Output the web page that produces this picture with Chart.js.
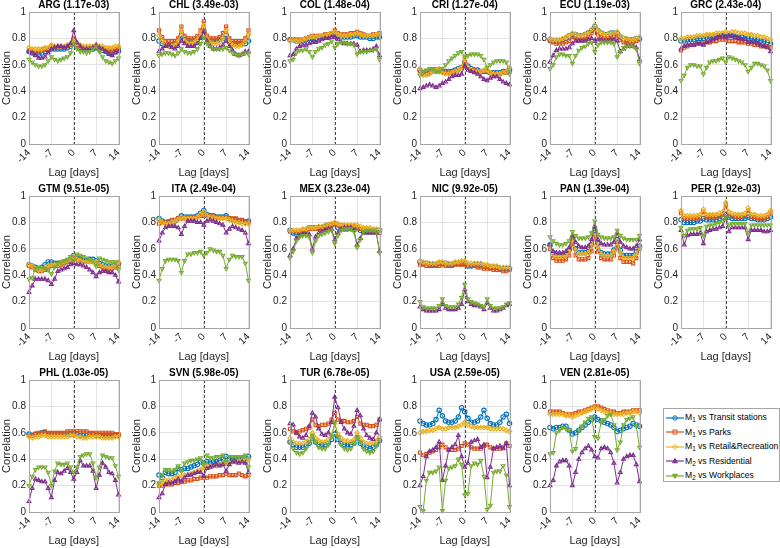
<!DOCTYPE html>
<html>
<head>
<meta charset="utf-8">
<script src="https://cdn.jsdelivr.net/npm/chart.js@4.4.1/dist/chart.umd.min.js"></script>
<style>
body { margin: 0; background: #fff; width: 780px; height: 548px; position: relative; overflow: hidden; font-family: "Liberation Sans", Arial, sans-serif; }
.panel { position: absolute; }
#legend { position: absolute; left: 663px; top: 408px; width: 117px; height: 74px; border: 1px solid #a6a6a6; box-sizing: border-box; background: #fff; font-size: 8.6px; color: #000; padding-top: 1px; }
.item { height: 14.5px; line-height: 14.5px; white-space: nowrap; }
.item svg { vertical-align: middle; margin: 0 1px 0 2px; }
sub { font-size: 6.3px; vertical-align: -2px; }
</style>
</head>
<body>
<div id="legend"></div>
<script>
// lag axis and series names
const lags = [-14, -13, -12, -11, -10, -9, -8, -7, -6, -5, -4, -3, -2, -1, 0, 1, 2, 3, 4, 5, 6, 7, 8, 9, 10, 11, 12, 13, 14];
const seriesNames = ['M<sub>1</sub> vs Transit stations', 'M<sub>1</sub> vs Parks', 'M<sub>1</sub> vs Retail&amp;Recreation', 'M<sub>2</sub> vs Residential', 'M<sub>2</sub> vs Workplaces'];
const seriesLabels = ['M₁ vs Transit stations', 'M₁ vs Parks', 'M₁ vs Retail&Recreation', 'M₂ vs Residential', 'M₂ vs Workplaces'];
const colors = ['#0072BD', '#D95319', '#EDB120', '#7E2F8E', '#77AC30'];

// ---- ARG
const ARG_transit = [0.70,0.69,0.68,0.68,0.69,0.70,0.71, 0.72,0.72,0.72,0.72,0.72,0.73,0.74, 0.78, 0.74,0.73,0.72,0.72,0.72,0.72, 0.73,0.72,0.71,0.70,0.69,0.69,0.70, 0.71];
const ARG_parks   = [0.71,0.71,0.70,0.70,0.71,0.72,0.72, 0.74,0.73,0.73,0.73,0.73,0.74,0.75, 0.80, 0.75,0.74,0.73,0.73,0.73,0.73, 0.74,0.73,0.72,0.71,0.71,0.71,0.72, 0.73];
const ARG_retail  = [0.73,0.72,0.72,0.72,0.72,0.73,0.73, 0.75,0.74,0.74,0.74,0.74,0.75,0.76, 0.78, 0.76,0.75,0.74,0.74,0.74,0.74, 0.75,0.74,0.74,0.73,0.73,0.73,0.74, 0.74];
const ARG_resid   = [0.70,0.69,0.67,0.65,0.65,0.66,0.69, 0.72,0.73,0.74,0.74,0.73,0.74,0.76, 0.86, 0.77,0.74,0.72,0.72,0.72,0.73, 0.75,0.73,0.72,0.70,0.68,0.67,0.69, 0.70];
const ARG_work    = [0.64,0.62,0.60,0.59,0.59,0.60,0.63, 0.66,0.64,0.63,0.64,0.65,0.66,0.69, 0.76, 0.72,0.70,0.70,0.69,0.70,0.72, 0.74,0.70,0.66,0.63,0.62,0.61,0.63, 0.65];

// ---- CHL
const CHL_transit = [0.78,0.76,0.75,0.75,0.75,0.76,0.78, 0.82,0.79,0.78,0.78,0.78,0.79,0.81, 0.86, 0.80,0.78,0.78,0.78,0.79,0.80, 0.82,0.78,0.76,0.76,0.76,0.76,0.76, 0.78];
const CHL_parks   = [0.86,0.81,0.78,0.78,0.78,0.78,0.80, 0.89,0.82,0.80,0.80,0.80,0.82,0.86, 0.93, 0.82,0.80,0.80,0.80,0.81,0.84, 0.89,0.80,0.78,0.78,0.78,0.78,0.80, 0.86];
const CHL_retail  = [0.82,0.78,0.75,0.74,0.74,0.75,0.78, 0.86,0.78,0.76,0.76,0.77,0.79,0.84, 0.90, 0.80,0.77,0.76,0.76,0.77,0.80, 0.86,0.78,0.75,0.74,0.74,0.75,0.78, 0.83];
const CHL_resid   = [0.70,0.72,0.74,0.75,0.73,0.72,0.74, 0.78,0.76,0.74,0.74,0.74,0.76,0.80, 0.85, 0.78,0.74,0.72,0.72,0.73,0.75, 0.78,0.74,0.71,0.68,0.67,0.68,0.70, 0.70];
const CHL_work    = [0.67,0.68,0.69,0.69,0.68,0.67,0.69, 0.72,0.70,0.69,0.69,0.70,0.72,0.76, 0.81, 0.76,0.74,0.72,0.72,0.72,0.72, 0.73,0.71,0.69,0.68,0.67,0.68,0.69, 0.68];

// ---- COL
const COL_transit = [0.79,0.79,0.78,0.78,0.78,0.79,0.80, 0.80,0.80,0.81,0.81,0.82,0.82,0.83, 0.83, 0.82,0.81,0.81,0.81,0.81,0.82, 0.82,0.81,0.81,0.81,0.80,0.80,0.81, 0.81];
const COL_parks   = [0.79,0.79,0.79,0.79,0.79,0.80,0.81, 0.82,0.82,0.82,0.82,0.83,0.83,0.84, 0.86, 0.84,0.83,0.83,0.83,0.84,0.84, 0.85,0.84,0.83,0.82,0.82,0.83,0.83, 0.84];
const COL_retail  = [0.78,0.79,0.78,0.78,0.79,0.80,0.81, 0.81,0.81,0.82,0.82,0.82,0.83,0.84, 0.85, 0.83,0.82,0.82,0.82,0.83,0.83, 0.84,0.83,0.82,0.82,0.82,0.82,0.83, 0.83];
const COL_resid   = [0.67,0.68,0.72,0.74,0.75,0.75,0.76, 0.77,0.77,0.78,0.79,0.80,0.80,0.81, 0.81, 0.79,0.77,0.76,0.76,0.76,0.76, 0.75,0.70,0.71,0.71,0.71,0.72,0.74, 0.67];
const COL_work    = [0.63,0.64,0.69,0.71,0.71,0.72,0.70, 0.66,0.70,0.72,0.73,0.75,0.76,0.78, 0.73, 0.76,0.77,0.77,0.76,0.76,0.75, 0.68,0.70,0.70,0.70,0.71,0.71,0.72, 0.64];

// ---- CRI
const CRI_transit = [0.56,0.54,0.55,0.55,0.56,0.56,0.56, 0.55,0.55,0.55,0.55,0.56,0.57,0.58, 0.62, 0.59,0.57,0.56,0.56,0.55,0.55, 0.55,0.54,0.54,0.54,0.54,0.55,0.55, 0.56];
const CRI_parks   = [0.55,0.53,0.53,0.54,0.55,0.55,0.56, 0.55,0.54,0.54,0.54,0.55,0.56,0.58, 0.62, 0.58,0.56,0.56,0.55,0.55,0.55, 0.55,0.54,0.53,0.53,0.53,0.54,0.54, 0.55];
const CRI_retail  = [0.57,0.52,0.52,0.53,0.55,0.56,0.57, 0.54,0.53,0.53,0.54,0.55,0.56,0.58, 0.65, 0.58,0.56,0.55,0.55,0.55,0.56, 0.56,0.54,0.53,0.53,0.53,0.54,0.55, 0.58];
const CRI_resid   = [0.42,0.43,0.44,0.45,0.44,0.43,0.44, 0.46,0.47,0.49,0.51,0.52,0.52,0.53, 0.59, 0.56,0.55,0.54,0.53,0.51,0.49, 0.48,0.50,0.51,0.51,0.49,0.47,0.46, 0.45];
const CRI_work    = [0.52,0.55,0.56,0.57,0.57,0.55,0.55, 0.57,0.60,0.63,0.65,0.67,0.69,0.70, 0.66, 0.67,0.68,0.68,0.68,0.67,0.64, 0.58,0.60,0.62,0.63,0.63,0.63,0.62, 0.53];

// ---- ECU
const ECU_transit = [0.79,0.78,0.78,0.78,0.79,0.80,0.82, 0.83,0.83,0.82,0.82,0.83,0.84,0.86, 0.89, 0.86,0.84,0.83,0.83,0.84,0.84, 0.84,0.81,0.80,0.79,0.79,0.79,0.80, 0.80];
const ECU_parks   = [0.78,0.77,0.76,0.76,0.76,0.77,0.78, 0.81,0.80,0.79,0.79,0.80,0.81,0.84, 0.87, 0.83,0.81,0.80,0.80,0.80,0.81, 0.82,0.79,0.77,0.77,0.77,0.77,0.78, 0.79];
const ECU_retail  = [0.80,0.79,0.79,0.79,0.80,0.81,0.82, 0.84,0.83,0.82,0.82,0.83,0.84,0.87, 0.90, 0.86,0.84,0.83,0.83,0.84,0.84, 0.85,0.82,0.80,0.80,0.79,0.79,0.80, 0.81];
const ECU_resid   = [0.62,0.67,0.71,0.72,0.72,0.72,0.73, 0.76,0.78,0.78,0.78,0.78,0.79,0.80, 0.78, 0.79,0.79,0.78,0.78,0.79,0.79, 0.78,0.70,0.72,0.74,0.74,0.74,0.73, 0.64];
const ECU_work    = [0.57,0.60,0.66,0.68,0.68,0.67,0.67, 0.61,0.67,0.71,0.73,0.74,0.76,0.77, 0.70, 0.75,0.77,0.77,0.77,0.77,0.76, 0.66,0.70,0.73,0.74,0.74,0.74,0.72, 0.61];

// ---- GRC
const GRC_transit = [0.78,0.78,0.79,0.79,0.79,0.80,0.80, 0.80,0.81,0.81,0.81,0.82,0.82,0.82, 0.82, 0.82,0.82,0.81,0.81,0.81,0.80, 0.80,0.80,0.79,0.79,0.78,0.78,0.77, 0.76];
const GRC_parks   = [0.71,0.73,0.74,0.75,0.75,0.76,0.76, 0.76,0.77,0.77,0.78,0.78,0.79,0.79, 0.79, 0.78,0.78,0.78,0.77,0.77,0.77, 0.76,0.76,0.75,0.75,0.74,0.74,0.74, 0.73];
const GRC_retail  = [0.80,0.80,0.81,0.81,0.81,0.82,0.82, 0.82,0.83,0.83,0.83,0.84,0.84,0.84, 0.85, 0.84,0.85,0.85,0.84,0.84,0.84, 0.83,0.83,0.82,0.82,0.81,0.81,0.80, 0.79];
const GRC_resid   = [0.72,0.74,0.75,0.75,0.75,0.76,0.76, 0.75,0.77,0.78,0.79,0.80,0.81,0.82, 0.81, 0.82,0.82,0.81,0.80,0.79,0.79, 0.77,0.77,0.77,0.76,0.75,0.74,0.73, 0.70];
const GRC_work    = [0.48,0.52,0.58,0.60,0.60,0.59,0.59, 0.53,0.58,0.62,0.63,0.63,0.64,0.65, 0.62, 0.66,0.65,0.64,0.63,0.62,0.60, 0.55,0.58,0.61,0.61,0.60,0.59,0.56, 0.48];

// ---- GTM
const GTM_transit = [0.48,0.47,0.46,0.45,0.46,0.48,0.50, 0.50,0.49,0.49,0.49,0.50,0.51,0.52, 0.55, 0.53,0.52,0.51,0.51,0.52,0.52, 0.51,0.49,0.48,0.47,0.47,0.47,0.48, 0.49];
const GTM_parks   = [0.47,0.46,0.44,0.43,0.43,0.44,0.46, 0.47,0.47,0.47,0.48,0.49,0.50,0.51, 0.53, 0.52,0.51,0.50,0.50,0.50,0.50, 0.49,0.47,0.46,0.45,0.45,0.45,0.46, 0.47];
const GTM_retail  = [0.48,0.47,0.45,0.44,0.44,0.45,0.47, 0.48,0.48,0.48,0.49,0.50,0.51,0.52, 0.54, 0.52,0.51,0.50,0.50,0.50,0.50, 0.50,0.48,0.47,0.46,0.46,0.46,0.48, 0.50];
const GTM_resid   = [0.27,0.32,0.37,0.37,0.37,0.37,0.36, 0.33,0.37,0.43,0.44,0.45,0.46,0.48, 0.49, 0.48,0.48,0.47,0.46,0.44,0.42, 0.39,0.42,0.43,0.43,0.42,0.42,0.40, 0.35];
const GTM_work    = [0.37,0.38,0.45,0.46,0.46,0.45,0.44, 0.41,0.46,0.49,0.50,0.51,0.52,0.54, 0.51, 0.56,0.55,0.54,0.53,0.52,0.51, 0.47,0.53,0.52,0.51,0.50,0.50,0.50, 0.44];

// ---- ITA
const ITA_transit = [0.83,0.81,0.80,0.80,0.80,0.81,0.83, 0.85,0.84,0.84,0.84,0.84,0.85,0.87, 0.89, 0.86,0.85,0.85,0.84,0.84,0.84, 0.85,0.83,0.82,0.82,0.81,0.81,0.80, 0.81];
const ITA_parks   = [0.79,0.80,0.80,0.81,0.82,0.82,0.83, 0.83,0.83,0.84,0.84,0.84,0.84,0.85, 0.85, 0.85,0.85,0.85,0.84,0.84,0.84, 0.84,0.83,0.83,0.83,0.82,0.82,0.81, 0.80];
const ITA_retail  = [0.82,0.80,0.79,0.79,0.80,0.81,0.82, 0.84,0.83,0.83,0.83,0.83,0.84,0.86, 0.88, 0.85,0.84,0.84,0.83,0.83,0.83, 0.83,0.82,0.81,0.80,0.80,0.79,0.79, 0.79];
const ITA_resid   = [0.66,0.72,0.76,0.77,0.77,0.77,0.76, 0.71,0.77,0.81,0.81,0.81,0.80,0.80, 0.78, 0.81,0.82,0.81,0.80,0.79,0.78, 0.72,0.75,0.77,0.76,0.75,0.74,0.72, 0.64];
const ITA_work    = [0.36,0.45,0.51,0.52,0.52,0.52,0.51, 0.42,0.51,0.56,0.56,0.57,0.57,0.58, 0.55, 0.57,0.60,0.59,0.58,0.58,0.55, 0.45,0.52,0.55,0.54,0.54,0.54,0.49, 0.36];

// ---- MEX
const MEX_transit = [0.74,0.72,0.71,0.71,0.72,0.74,0.76, 0.76,0.76,0.76,0.76,0.77,0.78,0.78, 0.79, 0.76,0.75,0.75,0.75,0.76,0.76, 0.76,0.74,0.73,0.73,0.73,0.73,0.74, 0.74];
const MEX_parks   = [0.73,0.73,0.73,0.73,0.74,0.74,0.75, 0.75,0.75,0.75,0.76,0.76,0.77,0.78, 0.79, 0.78,0.78,0.77,0.77,0.77,0.77, 0.76,0.75,0.75,0.74,0.74,0.74,0.73, 0.72];
const MEX_retail  = [0.74,0.74,0.74,0.74,0.75,0.75,0.76, 0.76,0.76,0.77,0.77,0.78,0.78,0.79, 0.80, 0.79,0.78,0.78,0.78,0.78,0.78, 0.78,0.77,0.76,0.76,0.76,0.75,0.75, 0.74];
const MEX_resid   = [0.55,0.60,0.68,0.70,0.71,0.71,0.71, 0.60,0.69,0.72,0.73,0.74,0.75,0.75, 0.67, 0.72,0.75,0.76,0.76,0.76,0.74, 0.63,0.68,0.72,0.72,0.72,0.72,0.72, 0.58];
const MEX_work    = [0.53,0.58,0.66,0.69,0.70,0.70,0.69, 0.57,0.66,0.70,0.71,0.72,0.73,0.74, 0.64, 0.70,0.74,0.75,0.75,0.75,0.73, 0.61,0.67,0.73,0.74,0.74,0.74,0.73, 0.57];

// ---- NIC
const NIC_transit = [0.50,0.49,0.49,0.48,0.48,0.48,0.49, 0.49,0.49,0.48,0.48,0.49,0.49,0.49, 0.49, 0.47,0.47,0.48,0.48,0.48,0.47, 0.47,0.46,0.46,0.46,0.45,0.45,0.45, 0.45];
const NIC_parks   = [0.48,0.48,0.47,0.47,0.47,0.47,0.47, 0.48,0.47,0.47,0.47,0.48,0.48,0.48, 0.48, 0.47,0.47,0.47,0.46,0.46,0.45, 0.45,0.45,0.44,0.44,0.44,0.43,0.43, 0.44];
const NIC_retail  = [0.51,0.50,0.49,0.49,0.49,0.49,0.50, 0.50,0.49,0.49,0.49,0.50,0.50,0.51, 0.51, 0.49,0.49,0.49,0.49,0.49,0.48, 0.48,0.47,0.47,0.47,0.46,0.46,0.46, 0.46];
const NIC_resid   = [0.16,0.14,0.13,0.13,0.13,0.13,0.14, 0.18,0.15,0.14,0.14,0.14,0.15,0.18, 0.29, 0.20,0.18,0.17,0.17,0.16,0.14, 0.19,0.15,0.13,0.13,0.14,0.15,0.17, 0.18];
const NIC_work    = [0.20,0.16,0.15,0.15,0.15,0.15,0.17, 0.22,0.17,0.16,0.16,0.16,0.18,0.23, 0.33, 0.22,0.20,0.19,0.18,0.17,0.16, 0.22,0.17,0.15,0.15,0.15,0.16,0.18, 0.19];

// ---- PAN
const PAN_transit = [0.63,0.57,0.55,0.55,0.55,0.56,0.59, 0.68,0.60,0.57,0.57,0.57,0.58,0.63, 0.74, 0.64,0.57,0.56,0.56,0.56,0.59, 0.67,0.59,0.55,0.55,0.55,0.55,0.58, 0.62];
const PAN_parks   = [0.60,0.53,0.51,0.51,0.51,0.52,0.55, 0.64,0.55,0.52,0.52,0.52,0.53,0.58, 0.70, 0.58,0.53,0.52,0.52,0.52,0.55, 0.63,0.53,0.50,0.50,0.50,0.49,0.53, 0.60];
const PAN_retail  = [0.62,0.56,0.54,0.54,0.54,0.55,0.58, 0.67,0.59,0.56,0.56,0.56,0.57,0.62, 0.72, 0.62,0.56,0.55,0.55,0.55,0.58, 0.66,0.57,0.53,0.53,0.53,0.53,0.56, 0.61];
const PAN_resid   = [0.63,0.58,0.57,0.57,0.57,0.58,0.61, 0.70,0.65,0.62,0.61,0.61,0.62,0.67, 0.77, 0.67,0.64,0.63,0.63,0.63,0.65, 0.72,0.65,0.62,0.61,0.60,0.60,0.62, 0.67];
const PAN_work    = [0.69,0.66,0.64,0.63,0.63,0.64,0.66, 0.73,0.70,0.68,0.68,0.68,0.69,0.72, 0.81, 0.71,0.69,0.68,0.68,0.68,0.69, 0.74,0.70,0.68,0.67,0.67,0.67,0.67, 0.70];

// ---- PER
const PER_transit = [0.82,0.80,0.80,0.80,0.80,0.81,0.81, 0.83,0.82,0.82,0.82,0.82,0.83,0.84, 0.86, 0.84,0.83,0.83,0.83,0.83,0.83, 0.84,0.83,0.83,0.82,0.82,0.82,0.83, 0.84];
const PER_parks   = [0.87,0.83,0.83,0.83,0.83,0.83,0.84, 0.88,0.84,0.84,0.84,0.84,0.85,0.86, 0.93, 0.85,0.85,0.84,0.84,0.84,0.85, 0.89,0.84,0.84,0.83,0.83,0.83,0.84, 0.87];
const PER_retail  = [0.89,0.85,0.85,0.85,0.85,0.85,0.86, 0.90,0.86,0.86,0.86,0.86,0.87,0.88, 0.95, 0.88,0.87,0.86,0.86,0.86,0.87, 0.91,0.86,0.86,0.85,0.85,0.85,0.86, 0.89];
const PER_resid   = [0.74,0.63,0.70,0.71,0.71,0.71,0.72, 0.64,0.73,0.74,0.75,0.75,0.76,0.77, 0.83, 0.73,0.76,0.76,0.76,0.76,0.76, 0.67,0.74,0.74,0.74,0.74,0.73,0.73, 0.74];
const PER_work    = [0.76,0.70,0.74,0.75,0.75,0.75,0.76, 0.70,0.77,0.78,0.78,0.79,0.80,0.81, 0.84, 0.78,0.79,0.79,0.79,0.79,0.79, 0.72,0.78,0.78,0.78,0.78,0.78,0.78, 0.78];

// ---- PHL
const PHL_transit = [0.59,0.58,0.59,0.59,0.60,0.60,0.59, 0.59,0.59,0.59,0.59,0.59,0.59,0.59, 0.59, 0.59,0.58,0.58,0.58,0.59,0.59, 0.58,0.58,0.58,0.58,0.58,0.58,0.58, 0.58];
const PHL_parks   = [0.58,0.58,0.59,0.60,0.60,0.61,0.60, 0.60,0.60,0.60,0.60,0.60,0.61,0.61, 0.61, 0.61,0.61,0.61,0.61,0.60,0.60, 0.60,0.60,0.60,0.60,0.60,0.60,0.59, 0.59];
const PHL_retail  = [0.57,0.56,0.57,0.57,0.58,0.58,0.57, 0.57,0.57,0.57,0.57,0.57,0.57,0.58, 0.58, 0.57,0.57,0.56,0.56,0.57,0.57, 0.57,0.57,0.56,0.56,0.56,0.56,0.57, 0.57];
const PHL_resid   = [0.08,0.18,0.25,0.24,0.23,0.23,0.18, 0.11,0.24,0.30,0.29,0.31,0.33,0.30, 0.25, 0.30,0.39,0.35,0.35,0.35,0.31, 0.18,0.28,0.37,0.34,0.30,0.29,0.24, 0.13];
const PHL_work    = [0.20,0.27,0.32,0.34,0.34,0.34,0.30, 0.20,0.31,0.37,0.36,0.36,0.37,0.34, 0.30, 0.34,0.42,0.43,0.44,0.44,0.37, 0.26,0.34,0.43,0.42,0.41,0.41,0.35, 0.27];

// ---- SVN
const SVN_transit = [0.28,0.26,0.30,0.29,0.29,0.30,0.33, 0.32,0.33,0.33,0.34,0.35,0.36,0.38, 0.37, 0.38,0.37,0.38,0.38,0.39,0.40, 0.42,0.40,0.40,0.40,0.40,0.41,0.41, 0.42];
const SVN_parks   = [0.20,0.20,0.21,0.21,0.21,0.22,0.22, 0.23,0.23,0.24,0.24,0.25,0.25,0.26, 0.26, 0.26,0.27,0.27,0.27,0.28,0.28, 0.29,0.28,0.28,0.28,0.29,0.28,0.27, 0.28];
const SVN_retail  = [0.21,0.22,0.24,0.24,0.24,0.26,0.27, 0.27,0.28,0.28,0.29,0.30,0.31,0.32, 0.34, 0.35,0.34,0.35,0.35,0.36,0.37, 0.37,0.37,0.38,0.38,0.39,0.39,0.40, 0.40];
const SVN_resid   = [0.11,0.14,0.21,0.22,0.22,0.23,0.25, 0.23,0.26,0.28,0.28,0.29,0.30,0.30, 0.27, 0.33,0.34,0.35,0.36,0.35,0.36, 0.31,0.36,0.38,0.38,0.37,0.38,0.37, 0.30];
const SVN_work    = [0.22,0.28,0.32,0.32,0.31,0.32,0.35, 0.31,0.37,0.38,0.39,0.39,0.40,0.41, 0.36, 0.43,0.41,0.41,0.42,0.42,0.43, 0.38,0.42,0.42,0.42,0.42,0.42,0.43, 0.34];

// ---- TUR
const TUR_transit = [0.53,0.51,0.49,0.49,0.49,0.50,0.52, 0.56,0.53,0.51,0.51,0.51,0.52,0.55, 0.59, 0.55,0.52,0.51,0.51,0.51,0.52, 0.56,0.52,0.50,0.49,0.48,0.49,0.51, 0.54];
const TUR_parks   = [0.63,0.61,0.60,0.61,0.62,0.63,0.64, 0.70,0.66,0.65,0.66,0.66,0.67,0.70, 0.75, 0.70,0.69,0.69,0.68,0.68,0.69, 0.72,0.67,0.66,0.66,0.65,0.65,0.66, 0.70];
const TUR_retail  = [0.56,0.53,0.52,0.52,0.52,0.53,0.55, 0.60,0.56,0.54,0.53,0.53,0.55,0.58, 0.67, 0.59,0.56,0.54,0.54,0.53,0.55, 0.60,0.56,0.53,0.52,0.52,0.52,0.54, 0.57];
const TUR_resid   = [0.67,0.66,0.60,0.57,0.56,0.58,0.65, 0.75,0.72,0.63,0.59,0.58,0.60,0.68, 0.87, 0.79,0.68,0.63,0.60,0.59,0.65, 0.77,0.73,0.63,0.58,0.56,0.55,0.60, 0.70];
const TUR_work    = [0.53,0.48,0.45,0.44,0.45,0.48,0.53, 0.58,0.53,0.49,0.48,0.48,0.51,0.57, 0.68, 0.57,0.51,0.48,0.47,0.48,0.52, 0.57,0.53,0.48,0.46,0.45,0.46,0.50, 0.55];

// ---- USA
const USA_transit = [0.69,0.67,0.66,0.66,0.67,0.70,0.77, 0.73,0.69,0.68,0.68,0.69,0.72,0.79, 0.76, 0.71,0.68,0.68,0.69,0.72,0.77, 0.71,0.67,0.66,0.66,0.68,0.72,0.74, 0.67];
const USA_parks   = [0.45,0.43,0.44,0.45,0.46,0.47,0.49, 0.51,0.49,0.47,0.47,0.47,0.48,0.50, 0.52, 0.51,0.49,0.48,0.48,0.48,0.50, 0.51,0.49,0.48,0.48,0.48,0.49,0.52, 0.50];
const USA_retail  = [0.60,0.61,0.61,0.62,0.62,0.63,0.64, 0.63,0.63,0.64,0.64,0.64,0.65,0.66, 0.68, 0.66,0.65,0.64,0.64,0.64,0.64, 0.64,0.63,0.63,0.63,0.63,0.63,0.62, 0.61];
const USA_resid   = [0.20,0.27,0.42,0.46,0.47,0.49,0.53, 0.24,0.35,0.47,0.49,0.51,0.58,0.42, 0.34, 0.37,0.53,0.54,0.55,0.49,0.51, 0.26,0.34,0.48,0.49,0.50,0.48,0.52, 0.20];
const USA_work    = [0.04,0.01,0.24,0.30,0.30,0.31,0.34, 0.01,0.24,0.33,0.34,0.35,0.40,0.36, 0.13, 0.14,0.35,0.37,0.36,0.39,0.27, 0.02,0.05,0.30,0.31,0.31,0.35,0.28, 0.04];

// ---- VEN
const VEN_transit = [0.64,0.63,0.64,0.64,0.65,0.65,0.62, 0.59,0.60,0.62,0.64,0.66,0.68,0.70, 0.72, 0.70,0.69,0.68,0.67,0.66,0.64, 0.61,0.62,0.63,0.64,0.65,0.67,0.66, 0.65];
const VEN_parks   = [0.76,0.76,0.76,0.76,0.75,0.74,0.74, 0.74,0.75,0.76,0.76,0.77,0.78,0.79, 0.80, 0.80,0.79,0.78,0.77,0.76,0.76, 0.75,0.75,0.76,0.76,0.76,0.77,0.77, 0.77];
const VEN_retail  = [0.74,0.74,0.74,0.74,0.74,0.73,0.73, 0.72,0.73,0.74,0.75,0.76,0.77,0.78, 0.79, 0.78,0.77,0.76,0.75,0.75,0.74, 0.74,0.74,0.74,0.75,0.75,0.76,0.76, 0.75];
const VEN_resid   = [0.20,0.24,0.35,0.38,0.39,0.39,0.35, 0.20,0.30,0.40,0.45,0.48,0.50,0.47, 0.42, 0.41,0.48,0.49,0.48,0.45,0.37, 0.22,0.30,0.40,0.42,0.43,0.43,0.36, 0.23];
const VEN_work    = [0.44,0.45,0.60,0.62,0.64,0.63,0.62, 0.46,0.48,0.62,0.65,0.68,0.71,0.72, 0.57, 0.56,0.68,0.70,0.73,0.74,0.66, 0.47,0.53,0.66,0.70,0.71,0.72,0.65, 0.49];

const panels = [
	['ARG', '1.17e-03', [ARG_transit, ARG_parks, ARG_retail, ARG_resid, ARG_work]],
	['CHL', '3.49e-03', [CHL_transit, CHL_parks, CHL_retail, CHL_resid, CHL_work]],
	['COL', '1.48e-04', [COL_transit, COL_parks, COL_retail, COL_resid, COL_work]],
	['CRI', '1.27e-04', [CRI_transit, CRI_parks, CRI_retail, CRI_resid, CRI_work]],
	['ECU', '1.19e-03', [ECU_transit, ECU_parks, ECU_retail, ECU_resid, ECU_work]],
	['GRC', '2.43e-04', [GRC_transit, GRC_parks, GRC_retail, GRC_resid, GRC_work]],
	['GTM', '9.51e-05', [GTM_transit, GTM_parks, GTM_retail, GTM_resid, GTM_work]],
	['ITA', '2.49e-04', [ITA_transit, ITA_parks, ITA_retail, ITA_resid, ITA_work]],
	['MEX', '3.23e-04', [MEX_transit, MEX_parks, MEX_retail, MEX_resid, MEX_work]],
	['NIC', '9.92e-05', [NIC_transit, NIC_parks, NIC_retail, NIC_resid, NIC_work]],
	['PAN', '1.39e-04', [PAN_transit, PAN_parks, PAN_retail, PAN_resid, PAN_work]],
	['PER', '1.92e-03', [PER_transit, PER_parks, PER_retail, PER_resid, PER_work]],
	['PHL', '1.03e-05', [PHL_transit, PHL_parks, PHL_retail, PHL_resid, PHL_work]],
	['SVN', '5.98e-05', [SVN_transit, SVN_parks, SVN_retail, SVN_resid, SVN_work]],
	['TUR', '6.78e-05', [TUR_transit, TUR_parks, TUR_retail, TUR_resid, TUR_work]],
	['USA', '2.59e-05', [USA_transit, USA_parks, USA_retail, USA_resid, USA_work]],
	['VEN', '2.81e-05', [VEN_transit, VEN_parks, VEN_retail, VEN_resid, VEN_work]],
];

const pointStyles = ['circle', 'rect', 'rectRot', 'triangle', 'triangle'];
const pointRotations = [0, 0, 0, 0, 180];

Chart.defaults.font.family = '"Liberation Sans", Arial, sans-serif';
Chart.defaults.color = '#262626';

// dashed line at lag 0 and the box around each axes
const framePlugin = {
	id: 'frame',
	beforeDatasetsDraw(chart) {
		const { ctx, chartArea: a, scales } = chart;
		const x0 = Math.round(scales.x.getPixelForValue(0)) + 0.5;
		ctx.save();
		ctx.strokeStyle = '#1a1a1a';
		ctx.lineWidth = 0.8;
		ctx.setLineDash([3, 2]);
		ctx.beginPath();
		ctx.moveTo(x0, a.top);
		ctx.lineTo(x0, a.bottom);
		ctx.stroke();
		ctx.restore();
	},
	afterDraw(chart) {
		const { ctx, chartArea: a } = chart;
		ctx.save();
		ctx.strokeStyle = '#a6a6a6';
		ctx.lineWidth = 1;
		ctx.strokeRect(Math.round(a.left) + 0.5, Math.round(a.top) + 0.5, Math.round(a.width), Math.round(a.height));
		ctx.restore();
	}
};

panels.forEach((p, idx) => {
	const col = idx % 6;
	const row = Math.floor(idx / 6);
	const areaLeft = Math.round(29 + 130.3 * col);
	const areaTop = 12 + 184 * row;

	const box = document.createElement('div');
	box.className = 'panel';
	box.style.left = (areaLeft - 29) + 'px';
	box.style.top = (areaTop - 17) + 'px';
	const canvas = document.createElement('canvas');
	canvas.width = 130;
	canvas.height = 185;
	box.appendChild(canvas);
	document.body.appendChild(box);

	new Chart(canvas, {
		type: 'line',
		data: {
			datasets: p[2].map((vals, k) => ({
				label: seriesLabels[k],
				data: vals.map((v, i) => ({ x: lags[i], y: v })),
				borderColor: colors[k],
				backgroundColor: colors[k],
				pointBackgroundColor: 'rgba(255,255,255,0)',
				pointBorderColor: colors[k],
				pointStyle: pointStyles[k],
				pointRotation: pointRotations[k],
				pointRadius: 2.2,
				pointBorderWidth: 1.1,
				borderWidth: 1,
				tension: 0,
				clip: false,
				order: 5 - k,
			}))
		},
		options: {
			responsive: false,
			animation: false,
			devicePixelRatio: 1,
			layout: { padding: { left: 0, right: 10, top: 0, bottom: 0 } },
			scales: {
				x: {
					type: 'linear',
					min: -14,
					max: 14,
					ticks: { stepSize: 7, autoSkip: false, minRotation: 45, maxRotation: 45, font: { size: 10 }, padding: 3 },
					grid: { color: '#e3e3e3', drawTicks: false },
					border: { display: false },
					title: { display: true, text: 'Lag [days]', font: { size: 11 }, padding: 0 },
					afterFit: (scale) => { scale.height = 36; }
				},
				y: {
					min: 0,
					max: 1,
					ticks: { stepSize: 0.2, font: { size: 10 }, padding: 3, callback: (v) => String(+v.toFixed(1)) },
					grid: { color: '#e3e3e3', drawTicks: false },
					border: { display: false },
					title: { display: true, text: 'Correlation', font: { size: 11 }, padding: 0 },
					afterFit: (scale) => { scale.width = 29; }
				}
			},
			plugins: {
				legend: { display: false },
				tooltip: { enabled: false },
				title: {
					display: true,
					fullSize: false,
					text: `${p[0]} (${p[1]})`,
					color: '#000',
					font: { size: 10, weight: 'bold' },
					padding: { top: 4, bottom: 1 }
				}
			}
		},
		plugins: [framePlugin]
	});
});

// legend, same look as the plot markers
const markerSvg = (k) => {
	const c = colors[k];
	let shape = '';
	if (k === 0) shape = `<circle cx="9" cy="5" r="2.2" fill="none" stroke="${c}"/>`;
	if (k === 1) shape = `<rect x="7" y="3" width="4" height="4" fill="none" stroke="${c}"/>`;
	if (k === 2) shape = `<polygon points="9,2.4 11.6,5 9,7.6 6.4,5" fill="none" stroke="${c}"/>`;
	if (k === 3) shape = `<polygon points="9,2.5 11.4,6.8 6.6,6.8" fill="${c}" stroke="${c}"/>`;
	if (k === 4) shape = `<polygon points="9,7.5 11.4,3.2 6.6,3.2" fill="${c}" stroke="${c}"/>`;
	return `<svg width="18" height="10"><line x1="0" y1="5" x2="18" y2="5" stroke="${c}" stroke-width="1.2"/>${shape}</svg>`;
};
document.getElementById('legend').innerHTML = seriesNames
	.map((name, k) => `<div class="item">${markerSvg(k)}${name}</div>`)
	.join('');
</script>
</body>
</html>
